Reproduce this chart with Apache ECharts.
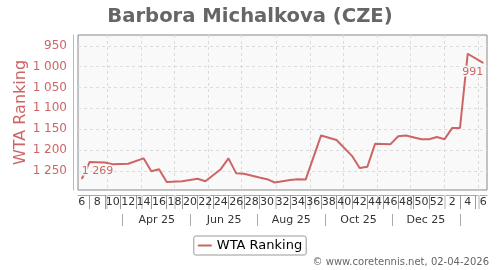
<!DOCTYPE html>
<html>
<head>
<meta charset="utf-8">
<script src="https://cdn.jsdelivr.net/npm/echarts@6/dist/echarts.min.js"></script>
<style>
html,body{margin:0;padding:0;background:#fff;}
#chart{width:500px;height:270px;}
</style>
</head>
<body>
<div id="chart"></div>
<script>
// Week index: 6..52 = ISO weeks of 2025, 53.. = weeks 1.. of 2026
const weeks   = [6, 7, 9, 10, 12, 14, 15, 16, 17, 19, 21, 22, 24, 25, 26, 27, 29, 30, 31, 33, 34, 35, 37, 39, 41, 42, 43, 44, 46, 47, 48, 50, 51, 52, 53, 54, 55, 56, 58];
const ranking = [1269, 1229, 1230, 1234, 1233, 1220, 1251, 1246, 1277, 1275, 1269, 1275, 1246, 1220, 1256, 1257, 1266, 1270, 1278, 1272, 1270, 1271, 1165, 1176, 1214, 1243, 1240, 1185, 1186, 1167, 1165, 1174, 1174, 1169, 1174, 1147, 1147, 969, 991];

const weekTickValues = [6, 8, 10, 12, 14, 16, 18, 20, 22, 24, 26, 28, 30, 32, 34, 36, 38, 40, 42, 44, 46, 48, 50, 52, 54, 56, 58];
const weekTickLabels = ['6', '8', '10', '12', '14', '16', '18', '20', '22', '24', '26', '28', '30', '32', '34', '36', '38', '40', '42', '44', '46', '48', '50', '52', '2', '4', '6'];
const weekSeparators = [7, 9, 11, 13, 15, 17, 19, 21, 23, 25, 27, 29, 31, 33, 35, 37, 39, 41, 43, 45, 47, 49, 51, 53, 55, 57];

const monthStarts = ['2025-03-01', '2025-04-01', '2025-05-01', '2025-06-01', '2025-07-01', '2025-08-01', '2025-09-01', '2025-10-01', '2025-11-01', '2025-12-01', '2026-01-01', '2026-02-01'];
const monthLabelDates = ['2025-04-15', '2025-06-15', '2025-08-15', '2025-10-15', '2025-12-15'];
const monthLabels = ['Apr 25', 'Jun 25', 'Aug 25', 'Oct 25', 'Dec 25'];
const monthSeparators = ['2025-03-15', '2025-05-15', '2025-07-15', '2025-09-15', '2025-11-15', '2026-01-15'];

const yTicks = [950, 1000, 1050, 1100, 1150, 1200, 1250];

// Convert date to week-index units (Thursday of ISO week 6, 2025 = 6)
const refDay = Date.UTC(2025, 1, 6);
function dateToWeek(s) {
  const p = s.split('-').map(Number);
  return 6 + (Date.UTC(p[0], p[1] - 1, p[2]) - refDay) / (7 * 86400000);
}
const monthStartX = monthStarts.map(dateToWeek);
const monthLabelX = monthLabelDates.map(dateToWeek);
const monthSepX = monthSeparators.map(dateToWeek);

function lookup(values, labels, v) {
  for (let i = 0; i < values.length; i++) if (Math.abs(values[i] - v) < 1e-6) return labels[i];
  return '';
}
function fmtRank(v) {
  const s = String(Math.round(v));
  return s.length > 3 ? s.slice(0, s.length - 3) + ' ' + s.slice(-3) : s;
}

const RED = '#cc6666';
const seriesData = weeks.map((w, i) => ({ value: [w, ranking[i]] }));
const lblBase = { show: true, color: RED, fontSize: 11, textBorderColor: '#f9f9f9', textBorderWidth: 3, formatter: p => fmtRank(p.value[1]) };
seriesData[0].label = Object.assign({}, lblBase, { position: 'top', align: 'left', distance: 2 });
seriesData[seriesData.length - 1].label = Object.assign({}, lblBase, { position: 'bottom', align: 'right', distance: 3 });

const xMin = 5.5, xMax = 58.5;

const chart = echarts.init(document.getElementById('chart'), null, { renderer: 'canvas' });
chart.setOption({
  animation: false,
  textStyle: { fontFamily: 'DejaVu Sans' },
  title: {
    text: 'Barbora Michalkova (CZE)',
    left: 'center', top: 2,
    textStyle: { fontSize: 19.6, fontWeight: 'bold', color: '#666', fontFamily: 'DejaVu Sans' }
  },
  grid: {
    left: 78, right: 13, top: 35, bottom: 80,
    show: true, backgroundColor: '#f9f9f9', borderColor: '#888', borderWidth: 1
  },
  legend: {
    top: 236, left: 'center',
    data: ['WTA Ranking'],
    icon: 'rect', itemWidth: 14, itemHeight: 2, itemGap: 5,
    borderColor: '#999', borderWidth: 1, borderRadius: 2, padding: [3, 4],
    textStyle: { fontSize: 13, color: '#000' }
  },
  xAxis: [
    {
      type: 'value', min: xMin, max: xMax, position: 'bottom', offset: 5,
      axisLine: { show: true, lineStyle: { color: '#aaa' } },
      axisTick: { show: true, customValues: weekSeparators, length: 14, lineStyle: { color: '#999' } },
      axisLabel: { customValues: weekTickValues, margin: 2, fontSize: 11, color: '#333',
        formatter: v => lookup(weekTickValues, weekTickLabels, v) },
      splitLine: { show: false }
    },
    {
      type: 'value', min: xMin, max: xMax, position: 'bottom', offset: 5,
      axisLine: { show: false },
      axisTick: { show: true, customValues: monthStartX, length: 14, lineStyle: { color: '#d8d8d8', width: 2 } },
      axisLabel: { show: false },
      splitLine: { show: true, lineStyle: { type: [3, 3], color: '#dcdcdc' } }
    },
    {
      type: 'value', min: xMin, max: xMax, position: 'bottom', offset: 24,
      axisLine: { show: false },
      axisTick: { show: true, customValues: monthSepX, length: 12, lineStyle: { color: '#aaa' } },
      axisLabel: { customValues: monthLabelX, margin: 1, fontSize: 11, color: '#333',
        formatter: v => lookup(monthLabelX, monthLabels, v) },
      splitLine: { show: false }
    }
  ],
  yAxis: {
    type: 'value', inverse: true, min: 924, max: 1296, offset: 5,
    name: 'WTA Ranking', nameLocation: 'middle', nameGap: 44, nameMoveOverlap: false,
    nameTextStyle: { fontSize: 16, color: RED },
    axisLine: { show: true, lineStyle: { color: '#e0a8a8' } },
    axisTick: { show: false, customValues: yTicks },
    axisLabel: { customValues: yTicks, margin: 6, fontSize: 12, color: RED, formatter: v => fmtRank(v) },
    splitLine: { show: true, lineStyle: { type: [3, 3], color: '#dcdcdc' } }
  },
  series: [{
    name: 'WTA Ranking', type: 'line', xAxisIndex: 0,
    data: seriesData,
    symbol: 'circle', symbolSize: 1, showSymbol: true,
    itemStyle: { color: RED },
    lineStyle: { color: RED, width: 2 },
    emphasis: { disabled: true }
  }],
  graphic: [{
    type: 'text', right: 11, bottom: 3,
    style: { text: '© www.coretennis.net, 02-04-2026', fontSize: 10, fill: '#666', fontFamily: 'DejaVu Sans' }
  }]
});
</script>
</body>
</html>
